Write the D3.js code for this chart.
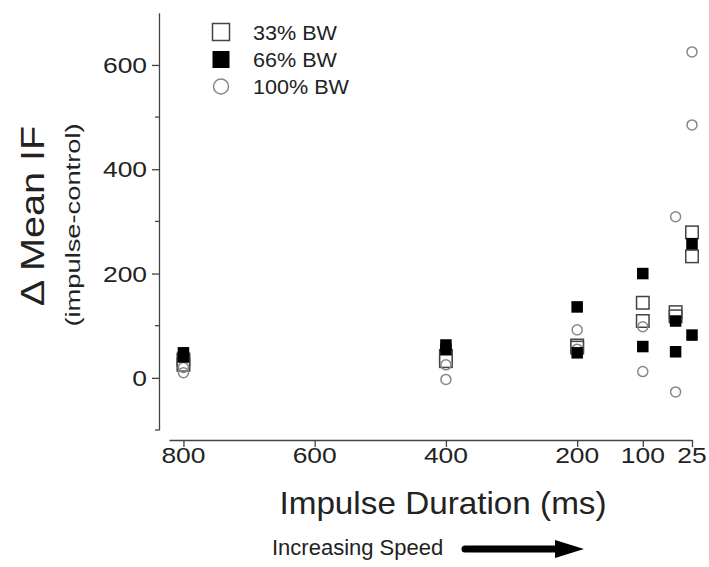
<!DOCTYPE html>
<html>
<head>
<meta charset="utf-8">
<script src="https://cdn.jsdelivr.net/npm/d3@7"></script>
<style>
  html, body { margin: 0; padding: 0; background: #fff; }
  svg { display: block; font-family: "Liberation Sans", Arial, Helvetica, sans-serif; }
</style>
</head>
<body>
<svg id="chart" width="709" height="567"></svg>
<script>
// ---- data ----
const durations = [800, 800, 400, 400, 200, 200, 100, 100, 50, 50, 25, 25];
const bw33  = [35, 25, 42, 32, 62, 58, 144, 109, 126, 118, 279, 233];
const bw66  = [48, 40, 63, 55, 136, 48, 200, 60, 109, 50, 257, 82];
const bw100 = [20, 10, 25, -3, 92, 55, 98, 12, 309, -27, 625, 485];

const xTicks = [800, 600, 400, 200, 100, 25];
const yMajorTicks = [0, 200, 400, 600];
const yMinorTicks = [-100, 100, 300, 500];
const legendLabels = ["33% BW", "66% BW", "100% BW"];

// ---- layout ----
const svg = d3.select("#chart");
const x = d3.scaleLinear().domain([822, 25]).range([169, 692]);
const y = d3.scaleLinear().domain([-100, 700]).range([430, 12.8]);
const yAxisX = 159;
const xAxisY = 440;
const axisColor = "#444";
const textColor = "#222";

function stretchText(g, str, tx, ty, size, sx, anchor, rot) {
  return g.append("text")
    .attr("transform", `translate(${tx},${ty}) rotate(${rot || 0}) scale(${sx},1)`)
    .attr("text-anchor", anchor)
    .attr("font-size", size)
    .attr("fill", textColor)
    .text(str);
}

// ---- y axis ----
const gy = svg.append("g").attr("transform", `translate(${yAxisX},0)`);
gy.call(d3.axisLeft(y).tickValues(yMajorTicks).tickSize(7).tickSizeOuter(0).tickFormat(""));
gy.select(".domain").attr("stroke", axisColor).attr("stroke-width", 1.3);
gy.selectAll(".tick line").attr("stroke", axisColor).attr("stroke-width", 1.3);
gy.selectAll(".minor").data(yMinorTicks).enter().append("line")
  .attr("class", "minor")
  .attr("x1", -4).attr("x2", 0)
  .attr("y1", d => y(d)).attr("y2", d => y(d))
  .attr("stroke", axisColor).attr("stroke-width", 1.3);
yMajorTicks.forEach(v => stretchText(svg, String(v), yAxisX - 12, y(v) + 8, 22, 1.2, "end"));

// ---- x axis ----
const gx = svg.append("g").attr("transform", `translate(0,${xAxisY})`);
gx.call(d3.axisBottom(x).tickValues(xTicks).tickSize(7).tickSizeOuter(0).tickFormat(""));
gx.select(".domain").attr("stroke", axisColor).attr("stroke-width", 1.3);
gx.selectAll(".tick line").attr("stroke", axisColor).attr("stroke-width", 1.3);
xTicks.forEach(v => stretchText(svg, String(v), x(v), xAxisY + 23, 22, 1.2, "middle"));

// ---- axis titles ----
stretchText(svg, "Impulse Duration (ms)", 443, 514, 32, 1.04, "middle");
stretchText(svg, "Increasing Speed", 272, 555, 22, 1.0, "start");
// arrow
svg.append("line").attr("x1", 465).attr("x2", 560).attr("y1", 549).attr("y2", 549)
  .attr("stroke", "#000").attr("stroke-width", 7).attr("stroke-linecap", "round");
svg.append("path").attr("d", "M555,540 L584,549 L555,558 Z").attr("fill", "#000");

stretchText(svg, "\u0394 Mean IF", 44, 216, 33, 1.2, "middle", -90);
stretchText(svg, "(impulse-control)", 80, 225, 21, 1.3, "middle", -90);

// ---- points ----
const plot = svg.append("g");
const openSize = 12.5, fillSize = 11.5, circR = 5;

plot.selectAll(".open").data(bw33).enter().append("rect")
  .attr("class", "open")
  .attr("x", (d, i) => x(durations[i]) - openSize / 2)
  .attr("y", d => y(d) - openSize / 2)
  .attr("width", openSize).attr("height", openSize)
  .attr("fill", "#fff").attr("stroke", "#444").attr("stroke-width", 1.5);

plot.selectAll(".circ").data(bw100).enter().append("circle")
  .attr("class", "circ")
  .attr("cx", (d, i) => x(durations[i]))
  .attr("cy", d => y(d))
  .attr("r", circR)
  .attr("fill", "none").attr("stroke", "#888").attr("stroke-width", 1.5);

plot.selectAll(".filled").data(bw66).enter().append("rect")
  .attr("class", "filled")
  .attr("x", (d, i) => x(durations[i]) - fillSize / 2)
  .attr("y", d => y(d) - fillSize / 2)
  .attr("width", fillSize).attr("height", fillSize)
  .attr("fill", "#000");

// ---- legend ----
const lg = svg.append("g");
const legY = [32, 59.5, 86.5];
lg.append("rect").attr("x", 221 - 8.5).attr("y", legY[0] - 8.5).attr("width", 17).attr("height", 17)
  .attr("fill", "#fff").attr("stroke", "#444").attr("stroke-width", 1.5);
lg.append("rect").attr("x", 221 - 8.5).attr("y", legY[1] - 8.5).attr("width", 17).attr("height", 17)
  .attr("fill", "#000");
lg.append("circle").attr("cx", 221).attr("cy", legY[2]).attr("r", 7.5)
  .attr("fill", "#fff").attr("stroke", "#888").attr("stroke-width", 1.5);
legendLabels.forEach((t, i) => stretchText(lg, t, 253, legY[i] + 7.5, 20, 1.08, "start"));
</script>
</body>
</html>
